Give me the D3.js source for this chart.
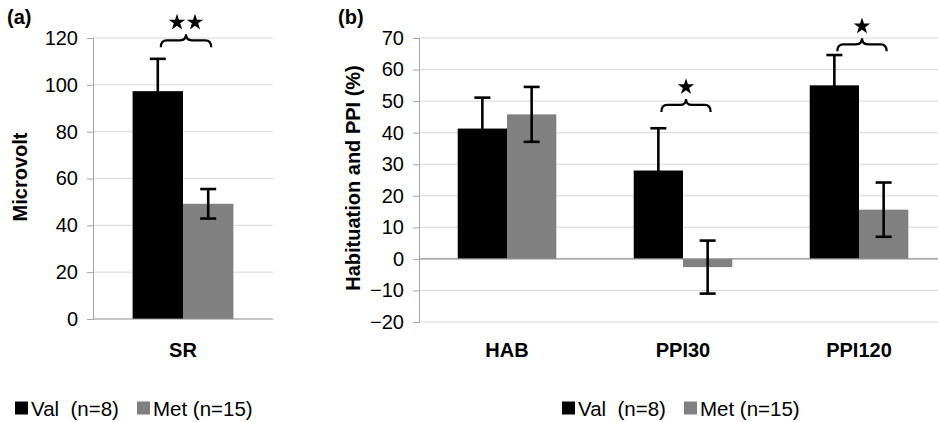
<!DOCTYPE html>
<html>
<head>
<meta charset="utf-8">
<script src="https://cdn.jsdelivr.net/npm/d3@7"></script>
<style>
  body { margin: 0; background: #fff; }
  svg { display: block; font-family: "Liberation Sans", Arial, sans-serif; }
  text { white-space: pre; }
</style>
</head>
<body>
<svg id="chart" width="938" height="422"></svg>
<script>
// panel (a): startle response
const groupsA = ["SR"];
const valA = [97.3];
const valSeA = [13.8];
const metA = [49.2];
const metSeA = [6.3];
const starsA = [2];
const braceA = [119];
const ticksA = [0, 20, 40, 60, 80, 100, 120];

// panel (b): habituation and PPI
const groupsB = ["HAB", "PPI30", "PPI120"];
const valB = [41.3, 28.0, 55.0];
const valSeB = [9.8, 13.4, 9.6];
const metB = [45.8, -2.6, 15.6];
const metSeB = [8.7, 8.4, 8.6];
const starsB = [0, 1, 1];
const braceB = [null, 48.8, 68];
const ticksB = [-20, -10, 0, 10, 20, 30, 40, 50, 60, 70];

const seriesNames = ["Val", "Met"];
const legendLabels = ["Val  (n=8)", "Met (n=15)"];
const colors = { Val: "#000000", Met: "#808080" };

const svg = d3.select("#chart");

function drawPanel(opt) {
    const g = svg.append("g");
    const y = d3.scaleLinear().domain(opt.domain).range(opt.yRange);
    const x = d3.scaleBand().domain(opt.groups).range(opt.xRange).padding(0);
    const bw = x.bandwidth();
    const x1 = d3.scaleBand().domain(seriesNames).range([bw * 0.22, bw * 0.78]).padding(0);

    // gridlines
    g.selectAll(".grid")
        .data(opt.ticks.filter(t => t !== 0))
        .enter()
        .append("line")
        .attr("x1", opt.xRange[0])
        .attr("x2", opt.xRange[1])
        .attr("y1", d => y(d))
        .attr("y2", d => y(d))
        .attr("stroke", "#d9d9d9")
        .attr("stroke-width", 1);

    const rows = [];
    opt.groups.forEach(function(grp, i) {
        rows.push({ group: grp, s: "Val", v: opt.val[i], se: opt.valSe[i] });
        rows.push({ group: grp, s: "Met", v: opt.met[i], se: opt.metSe[i] });
    });

    g.selectAll(".bar")
        .data(rows)
        .enter()
        .append("rect")
        .attr("x", d => x(d.group) + x1(d.s))
        .attr("width", x1.bandwidth())
        .attr("y", d => y(Math.max(0, d.v)))
        .attr("height", d => Math.abs(y(d.v) - y(0)))
        .attr("fill", d => colors[d.s]);

    // zero line
    g.append("line")
        .attr("x1", opt.xRange[0])
        .attr("x2", opt.xRange[1])
        .attr("y1", y(0))
        .attr("y2", y(0))
        .attr("stroke", "#8c8c8c")
        .attr("stroke-width", 1.2);

    // y axis
    const yAxis = d3.axisLeft(y).tickValues(opt.ticks).tickSize(6).tickPadding(9).tickFormat(d3.format("d"));
    const ya = g.append("g")
        .attr("transform", `translate(${opt.xRange[0]},0)`)
        .call(yAxis);
    ya.select(".domain").attr("stroke", "#a6a6a6");
    ya.selectAll(".tick line").attr("stroke", "#a6a6a6");
    ya.selectAll(".tick text")
        .attr("fill", "#000")
        .style("font-size", "20px")
        .style("font-family", "'Liberation Sans', Arial, sans-serif");

    // error bars
    const cap = 8;
    const eb = g.selectAll(".err")
        .data(rows)
        .enter()
        .append("g")
        .attr("stroke", "#000")
        .attr("stroke-width", 2.6);
    eb.append("line")
        .attr("x1", d => x(d.group) + x1(d.s) + x1.bandwidth() / 2)
        .attr("x2", d => x(d.group) + x1(d.s) + x1.bandwidth() / 2)
        .attr("y1", d => y(d.v - d.se))
        .attr("y2", d => y(d.v + d.se));
    eb.append("line")
        .attr("x1", d => x(d.group) + x1(d.s) + x1.bandwidth() / 2 - cap)
        .attr("x2", d => x(d.group) + x1(d.s) + x1.bandwidth() / 2 + cap)
        .attr("y1", d => y(d.v + d.se))
        .attr("y2", d => y(d.v + d.se));
    eb.append("line")
        .attr("x1", d => x(d.group) + x1(d.s) + x1.bandwidth() / 2 - cap)
        .attr("x2", d => x(d.group) + x1(d.s) + x1.bandwidth() / 2 + cap)
        .attr("y1", d => y(d.v - d.se))
        .attr("y2", d => y(d.v - d.se));

    // x labels
    g.selectAll(".xl")
        .data(opt.groups)
        .enter()
        .append("text")
        .attr("x", d => x(d) + bw / 2)
        .attr("y", 357)
        .attr("text-anchor", "middle")
        .style("font-size", "20px")
        .style("font-weight", "bold")
        .text(d => d);

    // significance braces
    opt.groups.forEach(function(grp, i) {
        if (!opt.stars[i]) return;
        const xa = x(grp) + x1("Val") + x1.bandwidth() / 2 + 3;
        const xb = x(grp) + x1("Met") + x1.bandwidth() / 2 + 3;
        const xm = (xa + xb) / 2;
        const yl = y(opt.brace[i]);
        const r = 6;
        const p = d3.path();
        p.moveTo(xa, yl + 7);
        p.quadraticCurveTo(xa, yl, xa + r, yl);
        p.lineTo(xm - r, yl);
        p.quadraticCurveTo(xm, yl, xm, yl - 6);
        p.quadraticCurveTo(xm, yl, xm + r, yl);
        p.lineTo(xb - r, yl);
        p.quadraticCurveTo(xb, yl, xb, yl + 7);
        g.append("path")
            .attr("d", p.toString())
            .attr("fill", "none")
            .attr("stroke", "#000")
            .attr("stroke-width", 2.2);
        const n = opt.stars[i];
        for (let k = 0; k < n; k++) {
            const sx = xm + (k - (n - 1) / 2) * 18;
            g.append("path")
                .attr("d", d3.symbol().type(d3.symbolStar).size(85)())
                .attr("transform", `translate(${sx},${yl - 18})`)
                .attr("fill", "#000");
        }
    });

    // y title
    g.append("text")
        .attr("transform", `translate(${opt.titleX},${opt.titleY}) rotate(-90)`)
        .attr("text-anchor", "middle")
        .style("font-size", "20px")
        .style("font-weight", "bold")
        .text(opt.title);

    // panel letter
    g.append("text")
        .attr("x", opt.letterX)
        .attr("y", 24)
        .style("font-size", "20px")
        .style("font-weight", "bold")
        .text(opt.letter);

    // legend
    const lg = g.append("g").attr("transform", `translate(${opt.legendX},408)`);
    const items = lg.selectAll(".li")
        .data(seriesNames)
        .enter()
        .append("g")
        .attr("transform", (d, i) => `translate(${i * opt.legendStep},0)`);
    items.append("rect")
        .attr("x", 0)
        .attr("y", -6.5)
        .attr("width", 13)
        .attr("height", 13)
        .attr("fill", d => colors[d]);
    items.append("text")
        .attr("x", 16)
        .attr("y", 7.5)
        .style("font-size", "20.5px")
        .text((d, i) => legendLabels[i]);
}

drawPanel({
    groups: groupsA, val: valA, valSe: valSeA, met: metA, metSe: metSeA,
    stars: starsA, brace: braceA, ticks: ticksA,
    domain: [0, 120], yRange: [319, 38], xRange: [93, 273],
    title: "Microvolt", titleX: 27, titleY: 177,
    letter: "(a)", letterX: 7,
    legendX: 15, legendStep: 122
});

drawPanel({
    groups: groupsB, val: valB, valSe: valSeB, met: metB, metSe: metSeB,
    stars: starsB, brace: braceB, ticks: ticksB,
    domain: [-20, 70], yRange: [322, 38], xRange: [419, 947],
    title: "Habituation and PPI (%)", titleX: 360, titleY: 178,
    letter: "(b)", letterX: 338,
    legendX: 562, legendStep: 122
});
</script>
</body>
</html>
